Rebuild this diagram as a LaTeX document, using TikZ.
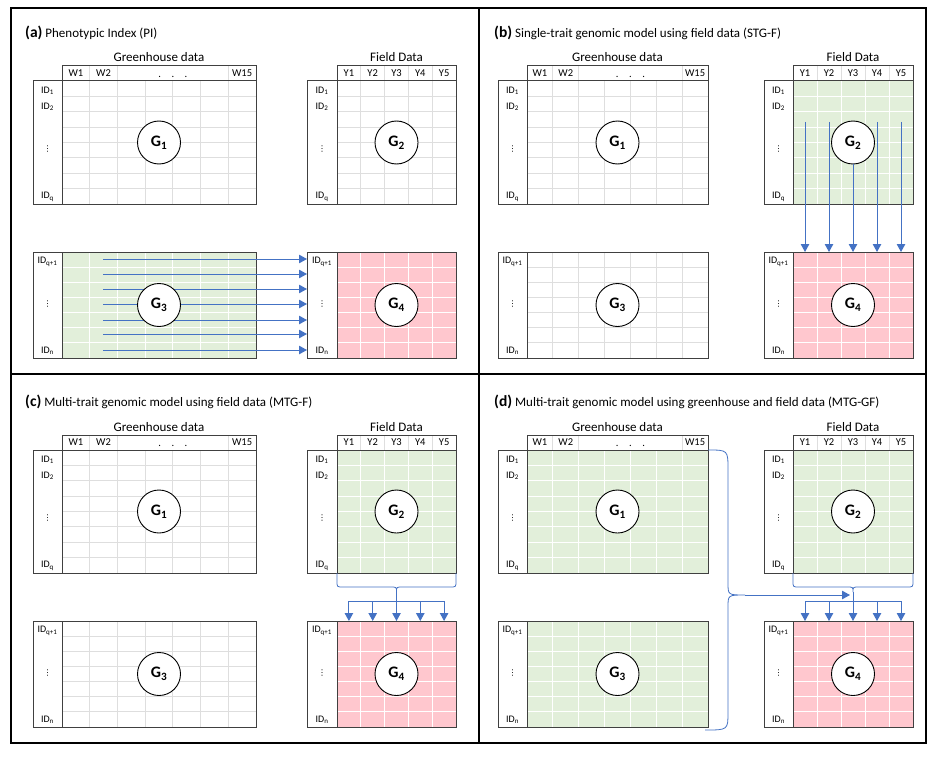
\documentclass[tikz,border=0pt]{standalone}
\usepackage{fontspec}
\setmainfont{Carlito}
\newfontfamily\djv{DejaVu Sans}
\usetikzlibrary{arrows.meta}
\definecolor{tblc}{HTML}{404040}
\definecolor{tfplain}{HTML}{FFFFFF}
\definecolor{tlplain}{HTML}{DEDEDE}
\definecolor{tfgreen}{HTML}{E2EFDA}
\definecolor{tlgreen}{HTML}{FFFFFF}
\definecolor{tfpink}{HTML}{FFC7CE}
\definecolor{tlpink}{HTML}{FFFFFF}
\definecolor{arrblue}{HTML}{4472C4}
\newcommand{\mvdots}{{\djv\fontsize{8}{9}\selectfont ⋮}}
% table grid
\newcommand{\gtable}[9]{%
 \pgfmathsetmacro\tcw{(#4-#3)/#7}%
 \pgfmathsetmacro\trh{(#6-#5)/#8}%
 \pgfmathtruncatemacro\tnc{#7-1}%
 \pgfmathtruncatemacro\tnr{#8-1}%
 \fill[tf#9] (#3,#5) rectangle (#4,#6);
 \foreach \i in {1,...,\tnc}{\draw[tl#9, line width=0.8pt] ({#3+\i*\tcw},#5) -- ({#3+\i*\tcw},#6);}
 \foreach \j in {1,...,\tnr}{\draw[tl#9, line width=0.8pt] (#3,{#5+\j*\trh}) -- (#4,{#5+\j*\trh});}
 \draw[tbl] (#2,#5) rectangle (#4,#6);
 \draw[tbl] (#3,#5) -- (#3,#6);
 \coordinate (#1) at ({(#3+#4)/2},{(#5+#6)/2});
}
% greenhouse header
\newcommand{\ghead}[4]{%
 \pgfmathsetmacro\hcw{(#3-#2)/7}%
 \foreach \i in {1,2,6}{\draw[tlplain, line width=0.8pt] ({#2+\i*\hcw},{#4-15}) -- ({#2+\i*\hcw},#4);}
 \draw[tbl] (#2,{#4-15}) rectangle (#3,#4);
 \node[hdr] (#1-w1) at ({#2+0.5*\hcw},{#4-7.5}) {W1};
 \node[hdr] (#1-w2) at ({#2+1.5*\hcw},{#4-7.5}) {W2};
 \node[hdr] (#1-dt) at ({#2+4*\hcw},{#4-4.5}) {.\quad.\quad.};
 \node[hdr] (#1-w15) at ({#2+6.5*\hcw},{#4-7.5}) {W15};
 \node[ttl] (#1-t) at ({(#2+#3)/2},{#4-19}) {Greenhouse data};
}
% field header
\newcommand{\fhead}[4]{%
 \pgfmathsetmacro\hcw{(#3-#2)/5}%
 \foreach \i in {1,...,4}{\draw[tlplain, line width=0.8pt] ({#2+\i*\hcw},{#4-15}) -- ({#2+\i*\hcw},#4);}
 \draw[tbl] (#2,{#4-15}) rectangle (#3,#4);
 \foreach \i in {1,...,5}{\node[hdr] (#1-y\i) at ({#2+(\i-0.5)*\hcw},{#4-7.5}) {Y\i};}
 \node[ttl] (#1-t) at ({(#2+#3)/2},{#4-19}) {Field Data};
}
\newcommand{\idtop}[4]{%
 \node[idl] (#1-i1) at ({(#2+#3)/2},{#4+10}) {ID\textsubscript{1}};
 \node[idl] (#1-i2) at ({(#2+#3)/2},{#4+26}) {ID\textsubscript{2}};
 \node[idl] (#1-iv) at ({(#2+#3)/2},{#4+68}) {\mvdots};
 \node[idl] (#1-iq) at ({(#2+#3)/2},{#4+116}) {ID\textsubscript{q}};
}
\newcommand{\idbot}[4]{%
 \node[idl] (#1-i1) at ({(#2+#3)/2},{#4+10}) {ID\textsubscript{q+1}};
 \node[idl] (#1-iv) at ({(#2+#3)/2},{#4+52}) {\mvdots};
 \node[idl] (#1-in) at ({(#2+#3)/2},{#4+99}) {ID\textsubscript{n}};
}
% brace under field table + distribution arrows
\newcommand{\fbrace}[4]{%
 \pgfmathsetmacro\bmid{(#2+#3)/2}%
 \pgfmathsetmacro\bcw{(#3-#2)/5}%
 \draw[brace] (#2,#4) -- (#2,{#4+8}) .. controls (#2,{#4+14}) .. ({#2+6},{#4+14}) -- ({\bmid-6},{#4+14}) .. controls (\bmid,{#4+14}) .. (\bmid,{#4+19}) .. controls (\bmid,{#4+14}) .. ({\bmid+6},{#4+14}) -- ({#3-6},{#4+14}) .. controls (#3,{#4+14}) .. (#3,{#4+8}) -- (#3,#4);
 \coordinate (#1-tip) at (\bmid,{#4+19});
 \coordinate (#1-bl) at ({#2+0.5*\bcw},{#4+28});
 \coordinate (#1-br) at ({#2+4.5*\bcw},{#4+28});
 \draw[bar] (#1-bl) -- (#1-br);
 \foreach \k [count=\n] in {0.5,1.5,3.5,4.5}{
  \coordinate (#1-s\n) at ({#2+\k*\bcw},{#4+28});
  \coordinate (#1-e\n) at ({#2+\k*\bcw},{#4+48});
  \draw[flow] (#1-s\n) -- (#1-e\n);}
 \coordinate (#1-em) at (\bmid,{#4+48});
 \draw[flow] (#1-tip) -- (#1-em);
}
\begin{document}
\begin{tikzpicture}[x=1pt,y=-1pt,
 tbl/.style={draw=tblc, line width=1pt},
 hdr/.style={font=\fontsize{10.5}{12}\selectfont, inner sep=0pt},
 ttl/.style={font=\fontsize{13}{14}\selectfont, anchor=base, inner sep=0pt},
 idl/.style={font=\fontsize{10}{11}\selectfont, inner sep=0pt},
 gcirc/.style={circle, draw=black, line width=0.9pt, fill=white, minimum size=43pt, inner sep=0pt, font=\fontsize{16}{18}\selectfont\bfseries},
 flow/.style={draw=arrblue, line width=1pt, -{Triangle[length=8pt,width=8.5pt]}},
 brace/.style={draw=arrblue, line width=0.8pt},
 bar/.style={draw=arrblue, line width=1pt},
 ptitle/.style={anchor=base west, inner sep=0pt, font=\fontsize{13}{15}\selectfont},
]
\useasboundingbox (0,0) rectangle (939,757);
\fill[white] (0,0) rectangle (939,757);

% ---------- frame ----------
\draw[line width=1.5pt] (11,8) rectangle (926,743);
\draw[line width=2.5pt] (11,743) -- (926,743);
\draw[line width=1.5pt] (479,8) -- (479,743);
\draw[line width=1.5pt] (11,374) -- (926,374);

% ---------- titles ----------
\node[ptitle] (ta) at (25,38) {{\fontsize{15.5}{17}\selectfont\bfseries (a)} Phenotypic Index (PI)};
\node[ptitle] (tb) at (494,38) {{\fontsize{15.5}{17}\selectfont\bfseries (b)} Single-trait genomic model using field data (STG-F)};
\node[ptitle] (tc) at (25,406) {{\fontsize{15.5}{17}\selectfont\bfseries (c)} Multi-trait genomic model using field data (MTG-F)};
\node[ptitle] (td) at (494,406) {{\fontsize{15.5}{17}\selectfont\bfseries (d)} Multi-trait genomic model using greenhouse and field data (MTG-GF)};

% ---------- panel (a) ----------
\gtable{a-t1}{33}{62}{256}{81}{204}{7}{8}{plain}
\ghead{a-gh}{62}{256}{81}
\idtop{a-t1}{33}{62}{81}
\gtable{a-t2}{307}{337}{456}{81}{204}{5}{8}{plain}
\fhead{a-fh}{337}{456}{81}
\idtop{a-t2}{307}{337}{81}
\gtable{a-t3}{33}{62}{256}{252}{358}{7}{7}{green}
\idbot{a-t3}{33}{62}{252}
\gtable{a-t4}{307}{337}{456}{252}{358}{5}{7}{pink}
\idbot{a-t4}{307}{337}{252}
\foreach \yy [count=\k] in {259,274,289,304,320,334,350}{
 \coordinate (a-s\k) at (103,\yy);
 \coordinate (a-e\k) at (307,\yy);
 \draw[flow] (a-s\k) -- (a-e\k);}
\node[gcirc] (a-g1) at (a-t1) {G\textsubscript{1}};
\node[gcirc] (a-g2) at (a-t2) {G\textsubscript{2}};
\node[gcirc] (a-g3) at (a-t3) {G\textsubscript{3}};
\node[gcirc] (a-g4) at (a-t4) {G\textsubscript{4}};

% ---------- panel (b) ----------
\gtable{b-t1}{498}{527}{708}{81}{204}{7}{8}{plain}
\ghead{b-gh}{527}{708}{81}
\idtop{b-t1}{498}{527}{81}
\gtable{b-t2}{764}{793}{913}{81}{204}{5}{8}{green}
\fhead{b-fh}{793}{913}{81}
\idtop{b-t2}{764}{793}{81}
\gtable{b-t3}{498}{527}{708}{252}{358}{7}{7}{plain}
\idbot{b-t3}{498}{527}{252}
\gtable{b-t4}{764}{793}{913}{252}{358}{5}{7}{pink}
\idbot{b-t4}{764}{793}{252}
\node[gcirc] (b-g1) at (b-t1) {G\textsubscript{1}};
\node[gcirc] (b-g2) at (b-t2) {G\textsubscript{2}};
\node[gcirc] (b-g3) at (b-t3) {G\textsubscript{3}};
\node[gcirc] (b-g4) at (b-t4) {G\textsubscript{4}};
\foreach \xx [count=\k] in {805,829,877,901}{
 \coordinate (b-s\k) at (\xx,122);
 \coordinate (b-e\k) at (\xx,252);
 \draw[flow] (b-s\k) -- (b-e\k);}
\coordinate (b-em) at (853,252);
\draw[flow] (b-g2.south) -- (b-em);

% ---------- panel (c) ----------
\gtable{c-t1}{33}{62}{256}{450}{573}{7}{8}{plain}
\ghead{c-gh}{62}{256}{450}
\idtop{c-t1}{33}{62}{450}
\gtable{c-t2}{307}{337}{456}{450}{573}{5}{8}{green}
\fhead{c-fh}{337}{456}{450}
\idtop{c-t2}{307}{337}{450}
\gtable{c-t3}{33}{62}{256}{621}{727}{7}{7}{plain}
\idbot{c-t3}{33}{62}{621}
\gtable{c-t4}{307}{337}{456}{621}{727}{5}{7}{pink}
\idbot{c-t4}{307}{337}{621}
\node[gcirc] (c-g1) at (c-t1) {G\textsubscript{1}};
\node[gcirc] (c-g2) at (c-t2) {G\textsubscript{2}};
\node[gcirc] (c-g3) at (c-t3) {G\textsubscript{3}};
\node[gcirc] (c-g4) at (c-t4) {G\textsubscript{4}};
\fbrace{c-br}{337}{456}{573}

% ---------- panel (d) ----------
\gtable{d-t1}{498}{527}{708}{450}{573}{7}{8}{green}
\ghead{d-gh}{527}{708}{450}
\idtop{d-t1}{498}{527}{450}
\gtable{d-t2}{764}{793}{913}{450}{573}{5}{8}{green}
\fhead{d-fh}{793}{913}{450}
\idtop{d-t2}{764}{793}{450}
\gtable{d-t3}{498}{527}{708}{621}{727}{7}{7}{green}
\idbot{d-t3}{498}{527}{621}
\gtable{d-t4}{764}{793}{913}{621}{727}{5}{7}{pink}
\idbot{d-t4}{764}{793}{621}
\node[gcirc] (d-g1) at (d-t1) {G\textsubscript{1}};
\node[gcirc] (d-g2) at (d-t2) {G\textsubscript{2}};
\node[gcirc] (d-g3) at (d-t3) {G\textsubscript{3}};
\node[gcirc] (d-g4) at (d-t4) {G\textsubscript{4}};
\fbrace{d-br}{793}{913}{573}
% big brace along greenhouse tables
\coordinate (d-bigtop) at (708,450);
\coordinate (d-bigtip) at (745,595);
\coordinate (d-bigbot) at (705,730);
\draw[brace] (d-bigtop) .. controls (728,450) .. (728,470) -- (728,583) .. controls (728,595) .. (d-bigtip) .. controls (728,595) .. (728,607) -- (728,712) .. controls (728,730) .. (d-bigbot);
\coordinate (d-bigend) at (850,595);
\draw[flow] (d-bigtip) -- (d-bigend);
\end{tikzpicture}
\end{document}
